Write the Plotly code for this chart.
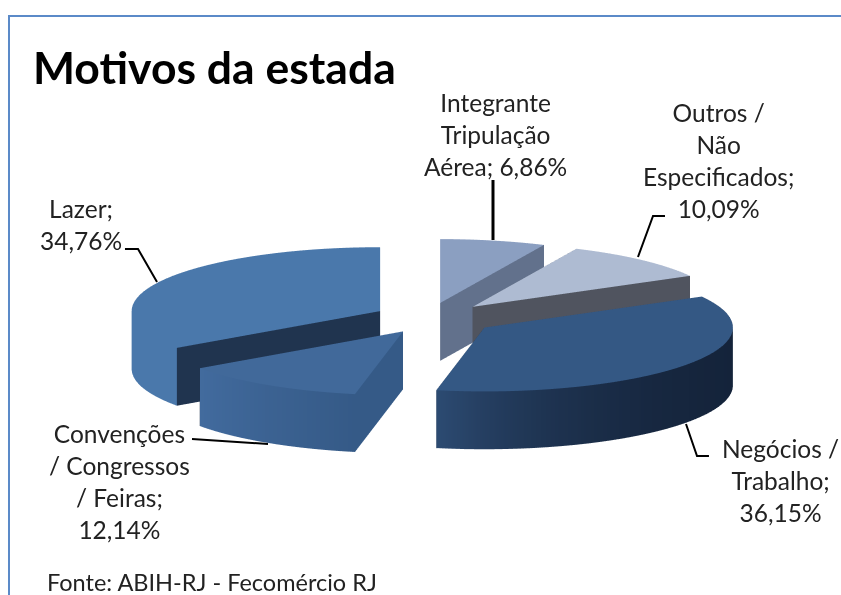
import math
import plotly.graph_objects as go

# data (clockwise from 12 o'clock)
categories = ["Integrante Tripulação Aérea", "Outros / Não Especificados", "Negócios / Trabalho",
              "Convenções / Congressos / Feiras", "Lazer"]
values = [6.86, 10.09, 36.15, 12.14, 34.76]
top_colors = ["#8b9fc1", "#aebbd2", "#345884", "#41699a", "#4a78ab"]
wall_start = ["#8b9fc1", "#aebbd2", "#14233a", "#355a87", "#4a78ab"]
wall_end = ["#62718c", "#8b96aa", "#2c4b72", "#426b9e", "#4a78ab"]
wall_ease = [1, 1, 4, 1, 1]
cut_a = ["#62718c", "#50545f", "#20344f", "#355a87", "#20344f"]   # face at the slice's start angle
cut_b = ["#62718c", "#50545f", "#20344f", "#20344f", "#20344f"]   # face at the slice's end angle

title_text = "Motivos da estada"
source_text = "Fonte: ABIH-RJ - Fecomércio RJ"
label_text = [
    ("Integrante<br>Tripulação<br>Aérea; 6,86%", 495, 134),
    ("Outros /<br>Não<br>Especificados;<br>10,09%", 718, 161),
    ("Negócios /<br>Trabalho;<br>36,15%", 780, 480),
    ("Convenções<br>/ Congressos<br>/ Feiras;<br>12,14%", 119, 481),
    ("Lazer;<br>34,76%", 81, 224),
]
leaders = [
    [(493, 180), (493, 240)],
    [(665, 216), (653, 216), (638, 257)],
    [(709, 456), (697, 456), (686, 424)],
    [(192, 439), (268, 444)],
    [(125, 249), (138, 249), (157, 282)],
]

W, H = 841, 595
RAD = 245.0
EXPLODE = 60.0
DEPTH = 59.0
TILT = math.radians(14.9)
ZOOM = 3.41
OFFX, OFFY = 13.5, 20.5
NUDGE_X = [-7, -3, 1, 2, 0]
N = 40


def hex2rgb(h):
    return tuple(int(h[i:i + 2], 16) for i in (1, 3, 5))


def mix(a, b, t):
    a, b = hex2rgb(a), hex2rgb(b)
    return "rgb(%d,%d,%d)" % tuple(round(a[k] + (b[k] - a[k]) * t) for k in range(3))


fig = go.Figure()
start = 0.0
total = sum(values)
for i, v in enumerate(values):
    sweep = v / total * 2 * math.pi
    t0, t1 = start, start + sweep
    mid = (t0 + t1) / 2
    ox, oy = EXPLODE * math.sin(mid) + NUDGE_X[i], EXPLODE * math.cos(mid)
    xs, ys, zs, cs, I, J, K = [], [], [], [], [], [], []

    def pt(x, y, z, c):
        xs.append(x); ys.append(y); zs.append(z); cs.append(c)
        return len(xs) - 1

    def tri(a, b, c):
        I.append(a); J.append(b); K.append(c)

    rim = [t0 + sweep * n / N for n in range(N + 1)]
    # top sector
    c0 = pt(ox, oy, 0, top_colors[i])
    ring = [pt(ox + RAD * math.sin(t), oy + RAD * math.cos(t), 0, top_colors[i]) for t in rim]
    for n in range(N):
        tri(c0, ring[n], ring[n + 1])
    # outer wall
    up, lo = [], []
    for n, t in enumerate(rim):
        col = mix(wall_start[i], wall_end[i], (n / N) ** wall_ease[i])
        px_, py_ = ox + RAD * math.sin(t), oy + RAD * math.cos(t)
        up.append(pt(px_, py_, 0, col))
        lo.append(pt(px_, py_, -DEPTH, col))
    for n in range(N):
        tri(up[n], lo[n], lo[n + 1])
        tri(up[n], lo[n + 1], up[n + 1])
    # cut faces
    for t, col in ((t0, cut_a[i]), (t1, cut_b[i])):
        px_, py_ = ox + RAD * math.sin(t), oy + RAD * math.cos(t)
        a = pt(ox, oy, 0, col)
        b = pt(px_, py_, 0, col)
        c = pt(px_, py_, -DEPTH, col)
        d_ = pt(ox, oy, -DEPTH, col)
        tri(a, b, c)
        tri(a, c, d_)
    fig.add_trace(go.Mesh3d(x=xs, y=ys, z=zs, i=I, j=J, k=K, vertexcolor=cs, flatshading=True,
                            name=categories[i], hoverinfo="name",
                            lighting=dict(ambient=1, diffuse=0, specular=0, roughness=1, fresnel=0)))
    start = t1

R = 500.0
axis = dict(visible=False, showspikes=False, autorange=False)
d = 2.0
fig.update_layout(
    width=W, height=H, margin=dict(l=0, r=0, t=0, b=0), paper_bgcolor="white", showlegend=False,
    scene=dict(
        domain=dict(x=[0, 1], y=[0, 1]),
        xaxis=dict(axis, range=[-OFFX - R, -OFFX + R]),
        yaxis=dict(axis, range=[-R, R]),
        zaxis=dict(axis, range=[OFFY / math.cos(TILT) - R, OFFY / math.cos(TILT) + R]),
        aspectmode="manual",
        aspectratio=dict(x=ZOOM, y=ZOOM, z=ZOOM),
        camera=dict(projection=dict(type="orthographic"), up=dict(x=0, y=0, z=1),
                    center=dict(x=0, y=0, z=0),
                    eye=dict(x=0, y=-d * math.cos(TILT), z=d * math.sin(TILT))),
    ),
)

FONT = "Lato, 'Open Sans', sans-serif"


def px(x):
    return x / W


def py(y):
    return 1 - y / H


fig.add_annotation(text="<b>%s</b>" % title_text, x=px(31), y=py(66), xref="paper", yref="paper",
                   xanchor="left", yanchor="middle", showarrow=False,
                   font=dict(family=FONT, size=44.5, color="#000000"))
fig.add_annotation(text=source_text, x=px(45), y=py(582), xref="paper", yref="paper",
                   xanchor="left", yanchor="middle", showarrow=False,
                   font=dict(family=FONT, size=23.5, color="#222222"))
for txt, x, y in label_text:
    fig.add_annotation(text=txt, x=px(x), y=py(y), xref="paper", yref="paper", xanchor="center",
                       yanchor="middle", align="center", showarrow=False,
                       font=dict(family=FONT, size=24.5, color="#222222"))
for k, line in enumerate(leaders):
    path = "M " + " L ".join("%.4f %.4f" % (px(a), py(b)) for a, b in line)
    fig.add_shape(type="path", path=path, xref="paper", yref="paper",
                  line=dict(color="#000000", width=3 if k == 0 else 2))
# chart frame: left and top edges only, the top runs off the page
fig.add_shape(type="path", path="M %.4f 0 L %.4f %.4f L 1 %.4f" % (px(9), px(9), py(16), py(16)),
              xref="paper", yref="paper", line=dict(color="#5b8ac8", width=2))
fig.write_html("out.html", config=dict(displayModeBar=False),
               post_script="document.body.style.margin='0';document.documentElement.style.overflow='hidden';")
